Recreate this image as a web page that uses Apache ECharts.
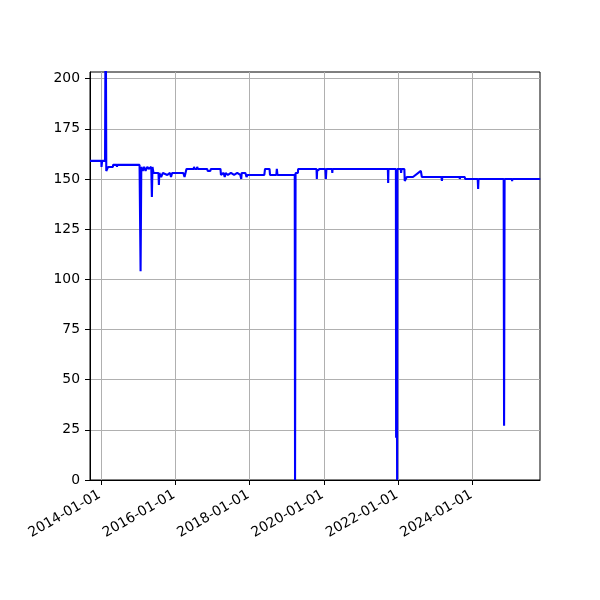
<!DOCTYPE html>
<html>
<head>
<meta charset="utf-8">
<script src="https://cdn.jsdelivr.net/npm/echarts@6/dist/echarts.min.js"></script>
<style>html,body{margin:0;padding:0;background:#fff}#c{width:600px;height:600px}</style>
</head>
<body>
<div id="c"></div>
<script>
// Dates and values (step-like series)
const dates = [
 '2013-09-15','2014-01-05','2014-01-06','2014-01-12','2014-02-10','2014-02-16','2014-02-22','2014-03-10','2014-03-12','2014-04-28','2014-04-30',
 '2014-06-05','2014-06-07','2014-06-10','2015-01-15','2015-01-25','2015-02-01','2015-02-15','2015-03-01','2015-03-15','2015-04-01','2015-04-15','2015-05-10',
 '2015-05-16','2015-05-22','2015-06-01','2015-07-20','2015-07-24','2015-07-28','2015-08-15','2015-09-01','2015-10-15','2015-11-10','2015-11-20','2015-12-01','2016-01-10',
 '2016-03-20','2016-04-01','2016-04-15','2016-04-20','2016-07-01','2016-07-03','2016-07-10','2016-08-01','2016-08-03','2016-08-10',
 '2016-11-10','2016-11-15','2016-12-10','2016-12-15','2017-03-20','2017-03-25','2017-04-20','2017-05-01','2017-05-10','2017-06-01','2017-07-01','2017-08-01',
 '2017-09-01','2017-10-01','2017-10-10','2017-10-15','2017-11-20','2017-12-01','2017-12-10',
 '2018-05-25','2018-06-01','2018-07-15','2018-07-20','2018-09-20','2018-09-25','2018-10-01',
 '2019-03-20','2019-03-23','2019-03-28','2019-04-20','2019-04-22','2019-10-20','2019-10-23','2019-10-26','2019-11-20','2020-01-15','2020-01-20','2020-01-25',
 '2020-03-20','2020-03-23','2020-03-26','2021-09-20','2021-09-23','2021-09-26','2021-12-08','2021-12-10','2021-12-13','2021-12-20','2021-12-22','2021-12-28',
 '2022-01-25','2022-01-28','2022-02-02','2022-03-01','2022-03-05','2022-03-25','2022-05-25','2022-08-10','2022-08-20',
 '2023-03-01','2023-03-05','2023-03-09','2023-08-25','2023-08-28','2023-09-01','2023-10-15','2023-10-20',
 '2024-02-20','2024-02-24','2024-02-28','2024-11-01','2024-11-05','2024-11-10','2025-01-20','2025-01-23','2025-01-26','2025-10-26'
];
const values = [
 159,159,156,159,159,250,154,154,156,156,157,
 157,156,157,157,104,156,154,156,154,156,155,156,
 141,156,153,153,147,153,151,153,152,153,151,153,153,
 153,151,151,155,155,156,155,155,156,155,
 155,154,154,155,155,152,153,151,153,152,153,152,
 153,152,150,153,153,151,152,
 152,155,155,152,152,155,152,
 152,0,153,153,155,155,150,154,155,155,150,155,
 155,153,155,155,148,155,155,21,155,0,155,155,
 155,153,155,155,149,151,151,154,151,
 151,149,151,151,150,151,151,150,
 150,145,150,150,27,150,150,149,150,150
];
const xTicks = ['2014-01-01','2016-01-01','2018-01-01','2020-01-01','2022-01-01','2024-01-01'];
const yTicks = [0,25,50,75,100,125,150,175,200];
const xMin = '2013-09-15', xMax = '2025-10-24';
const yMax = 203.3;

const ms = d => Date.parse(d + 'T00:00:00Z');
const pad = n => (n < 10 ? '0' : '') + n;
const fmt = v => { const d = new Date(v); return d.getUTCFullYear() + '-' + pad(d.getUTCMonth()+1) + '-' + pad(d.getUTCDate()); };
const data = dates.map((d,i)=>[ms(d), values[i]]);
const xTickMs = xTicks.map(ms);

const chart = echarts.init(document.getElementById('c'), null, {renderer:'canvas'});
const font = 'DejaVu Sans';
chart.setOption({
  animation:false,
  backgroundColor:'#fff',
  grid:{left:90,right:60,top:72,bottom:120,show:true,borderColor:'#000',borderWidth:1,backgroundColor:'transparent'},
  xAxis:{
    type:'value', min:ms(xMin), max:ms(xMax), scale:true,
    axisLine:{show:true,lineStyle:{color:'#000',width:1}},
    axisTick:{show:true,length:5,lineStyle:{color:'#000'},customValues:xTickMs},
    axisLabel:{customValues:xTickMs, rotate:30, margin:13, padding:[0,1.5,0,0], color:'#000', fontFamily:font, fontSize:13.9,
      formatter:v=>fmt(v)},
    splitLine:{show:true,lineStyle:{color:'#b0b0b0',width:1}}
  },
  yAxis:{
    type:'value', min:0, max:yMax,
    axisLine:{show:true,lineStyle:{color:'#000',width:1}},
    axisTick:{show:true,length:5,lineStyle:{color:'#000'},customValues:yTicks},
    axisLabel:{customValues:yTicks, margin:10, color:'#000', fontFamily:font, fontSize:13.9},
    splitLine:{show:true,lineStyle:{color:'#b0b0b0',width:1}}
  },
  series:[{type:'line', data:data, showSymbol:false, clip:true,
    lineStyle:{color:'#0000ff',width:2.1}, itemStyle:{color:'#0000ff'}}]
});
</script>
</body>
</html>
